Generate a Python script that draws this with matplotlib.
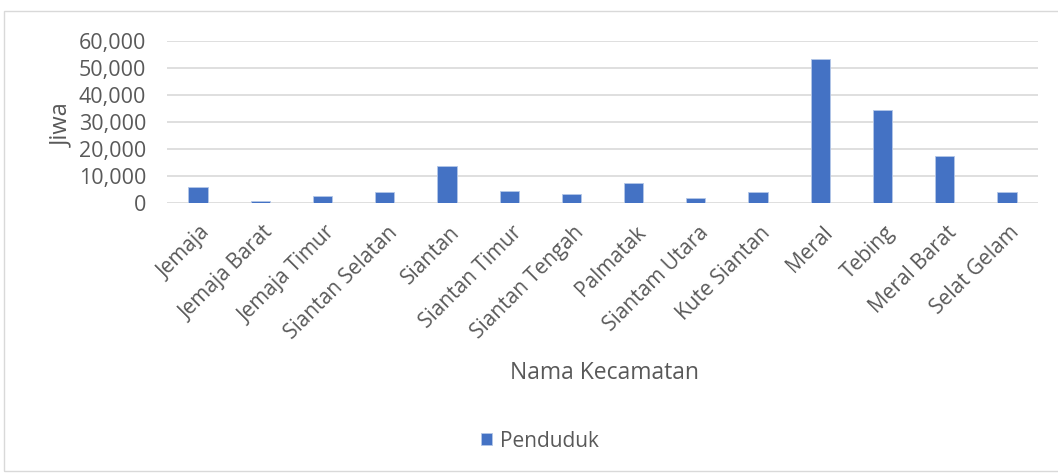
import matplotlib
matplotlib.use('Agg')
import matplotlib.pyplot as plt
import matplotlib.transforms as mtransforms
from matplotlib.patches import Rectangle
from matplotlib.ticker import FuncFormatter

kecamatan = ['Jemaja', 'Jemaja Barat', 'Jemaja Timur', 'Siantan Selatan', 'Siantan',
             'Siantan Timur', 'Siantan Tengah', 'Palmatak', 'Siantam Utara', 'Kute Siantan',
             'Meral', 'Tebing', 'Meral Barat', 'Selat Gelam']
penduduk = [5900, 750, 2500, 3850, 13600, 4300, 3330, 7400, 1600, 3800,
            53100, 34400, 17150, 4100]

plt.rcParams['font.family'] = ['Open Sans', 'DejaVu Sans']
text_color = '#595959'

fig = plt.figure(figsize=(10.58, 4.73), dpi=100)
ax = fig.add_axes([167 / 1058, 1 - 202.7 / 473, (1038 - 167) / 1058, 162 / 473])

x = range(len(kecamatan))
ax.bar(x, penduduk, width=0.31, color='#4472C4', edgecolor='#b4c7e7', linewidth=0.6,
       label='Penduduk', zorder=3)

ax.set_xlim(-0.5, len(kecamatan) - 0.5)
ax.set_ylim(0, 60000)
ax.set_yticks(range(0, 60001, 10000))
ax.yaxis.set_major_formatter(FuncFormatter(lambda v, p: f'{int(v):,}'))
ax.grid(axis='y', color='#d9d9d9', linewidth=1.2, zorder=0)
for s in ax.spines.values():
    s.set_visible(False)
ax.tick_params(axis='both', length=0, colors=text_color)
ax.tick_params(axis='y', pad=15, labelsize=15.5)
ax.set_xticks(list(x))
ax.set_xticklabels(kecamatan, rotation=45, ha='right', rotation_mode='anchor')
ax.tick_params(axis='x', pad=14, labelsize=15)
shift = mtransforms.ScaledTranslation(2 / 100, 0, fig.dpi_scale_trans)
for lbl in ax.get_xticklabels():
    lbl.set_transform(lbl.get_transform() + shift)

ax.set_ylabel('Jiwa', fontsize=17, color=text_color)
ax.yaxis.set_label_coords((74 - 167) / 871, (202.7 - 125) / 162)
fig.text(604 / 1058, 1 - 373 / 473, 'Nama Kecamatan', fontsize=16.5, color=text_color,
         ha='center', va='center')

handles, labels = ax.get_legend_handles_labels()
fig.legend(handles, labels, loc='center', bbox_to_anchor=(540 / 1058, 1 - 441 / 473),
           frameon=False, fontsize=15, handlelength=0.55, handleheight=0.55,
           handletextpad=0.4, labelcolor=text_color)

fig.patches.append(Rectangle((4 / 1058, 2 / 473), 1.2, 1 - 13 / 473, transform=fig.transFigure,
                             fill=False, edgecolor='#d9d9d9', linewidth=1))

fig.savefig('out.png', dpi=100)
